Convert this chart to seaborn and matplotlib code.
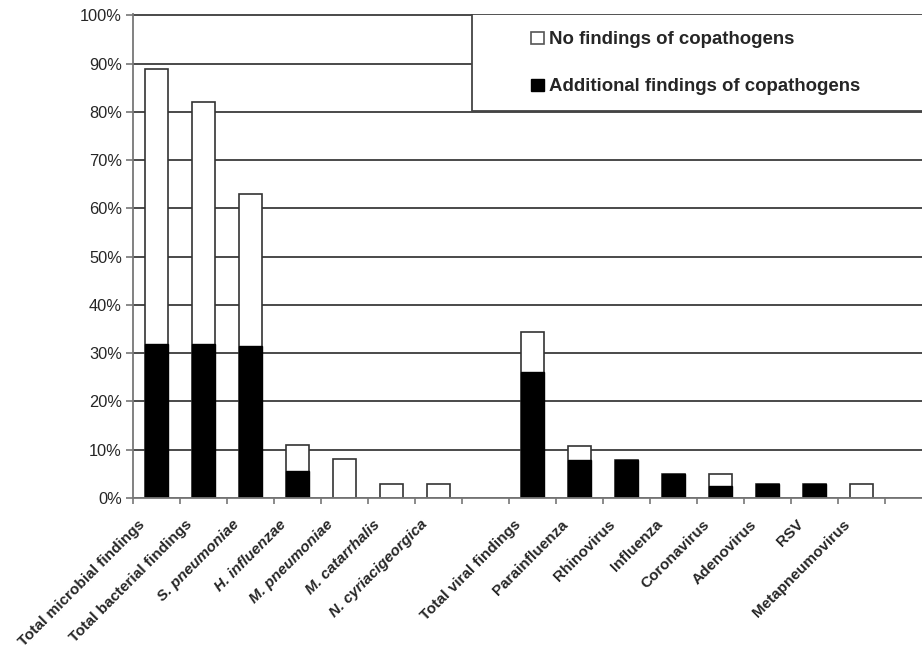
import matplotlib
matplotlib.use('Agg')
import matplotlib.pyplot as plt
import matplotlib.patches as mpatches
from matplotlib.ticker import PercentFormatter, FixedLocator
import pandas as pd
import seaborn as sns

# pathogen groups (bacterial, then viral; one empty slot between them)
bacteria = ['Total microbial findings', 'Total bacterial findings', 'S. pneumoniae',
            'H. influenzae', 'M. pneumoniae', 'M. catarrhalis', 'N. cyriacigeorgica']
viruses = ['Total viral findings', 'Parainfluenza', 'Rhinovirus', 'Influenza',
           'Coronavirus', 'Adenovirus', 'RSV', 'Metapneumovirus']
italic_labels = ['S. pneumoniae', 'H. influenzae', 'M. pneumoniae',
                 'M. catarrhalis', 'N. cyriacigeorgica']

# total share of patients with finding (stacked top) and share with copathogens (black)
total_bact = [0.89, 0.82, 0.63, 0.11, 0.08, 0.03, 0.03]
copath_bact = [0.32, 0.32, 0.315, 0.055, 0.0, 0.0, 0.0]
total_vir = [0.345, 0.108, 0.079, 0.05, 0.05, 0.03, 0.03, 0.03]
copath_vir = [0.262, 0.079, 0.079, 0.05, 0.024, 0.03, 0.03, 0.0]

gap = ' '
order = bacteria + [gap] + viruses

df = pd.DataFrame({
    'pathogen': bacteria + viruses,
    'total': total_bact + total_vir,
    'copath': copath_bact + copath_vir,
})

sns.set_style('white')
plt.rcParams['font.family'] = ['Liberation Sans', 'DejaVu Sans']

fig, ax = plt.subplots(figsize=(9.22, 6.49), dpi=100)
fig.subplots_adjust(left=0.1443, right=1.0, bottom=0.2327, top=0.9784)

edge = '#333333'
sns.barplot(data=df, x='pathogen', y='total', order=order, color='white',
            saturation=1, edgecolor=edge, linewidth=1.2, width=0.5,
            errorbar=None, ax=ax)
sns.barplot(data=df, x='pathogen', y='copath', order=order, color='black',
            saturation=1, edgecolor='black', linewidth=1.0, width=0.5,
            errorbar=None, ax=ax)

ax.set_xlim(-0.5, 16.29)
ax.set_ylim(0, 1.003)
ax.set_xlabel('')
ax.set_ylabel('')

# y axis
ax.set_yticks([i / 10 for i in range(11)])
ax.yaxis.set_major_formatter(PercentFormatter(1.0, decimals=0))
ax.yaxis.grid(True, color='#4a4a4a', linewidth=1.4)
ax.set_axisbelow(True)
ax.tick_params(axis='y', direction='out', length=5, width=1.2, color='#777777',
               labelsize=11.8, pad=3, left=True)

# x axis: labels sit a bit left of the bar centres (label ticks are invisible),
# small visible ticks between slots
ax.set_xticks([i - 0.18 for i in range(len(order))])
ax.set_xticklabels(order, rotation=45, ha='right', va='top',
                   fontsize=11.0, fontweight='bold')
for t in ax.get_xticklabels():
    if t.get_text() in italic_labels:
        t.set_fontstyle('italic')
ax.tick_params(axis='x', which='major', length=0, pad=14)
ax.xaxis.set_minor_locator(FixedLocator([i + 0.5 for i in range(-1, len(order))]))
ax.tick_params(axis='x', which='minor', direction='out', length=4, width=1.2,
               color='#777777', bottom=True)

for side in ['top', 'right']:
    ax.spines[side].set_visible(False)
for side in ['left', 'bottom']:
    ax.spines[side].set_color('#777777')
    ax.spines[side].set_linewidth(1.3)

# legend box in the top right corner
box = mpatches.Rectangle((0.43, 0.8), 0.6, 0.2, transform=ax.transAxes,
                         facecolor='white', edgecolor='#444444', linewidth=1.3,
                         zorder=5, clip_on=True)
ax.add_patch(box)
handles = [mpatches.Patch(facecolor='white', edgecolor='#555555', linewidth=1.2,
                          label='No findings of copathogens'),
           mpatches.Patch(facecolor='black', edgecolor='black',
                          label='Additional findings of copathogens')]
leg = ax.legend(handles=handles, loc='center left', bbox_to_anchor=(0.505, 0.898),
                frameon=False, borderaxespad=0, borderpad=0,
                prop={'size': 13.4, 'weight': 'bold'}, handlelength=0.65,
                handleheight=0.65, handletextpad=0.3, labelspacing=1.6)
leg.set_zorder(6)

fig.savefig('out.png', dpi=100)
